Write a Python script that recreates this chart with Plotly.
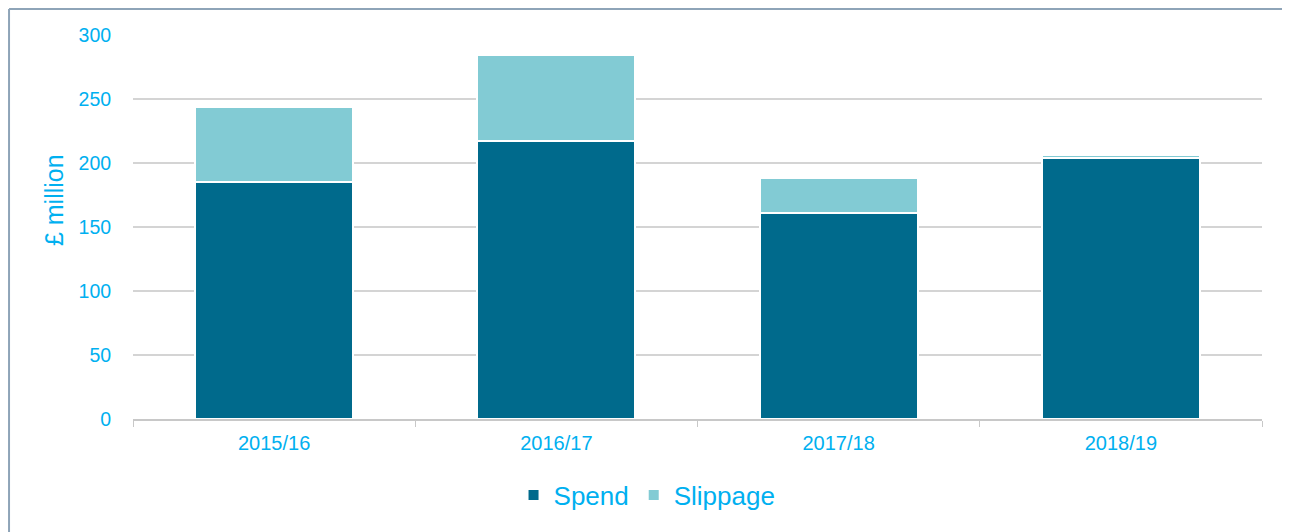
import plotly.graph_objects as go

years = ["2015/16", "2016/17", "2017/18", "2018/19"]
spend = [185, 217, 161, 204]
slippage = [59, 67, 27, 2]

TXT = "#00B0F0"
fig = go.Figure()
fig.add_trace(go.Bar(x=years, y=spend, name="Spend",
                     marker=dict(color="#006A8C", line=dict(color="white", width=2)), width=0.56))
fig.add_trace(go.Bar(x=years, y=slippage, name="Slippage",
                     marker=dict(color="#82CBD4", line=dict(color="white", width=2)), width=0.56))

fig.update_layout(
    barmode="stack",
    width=1290, height=532, autosize=False,
    margin=dict(l=125, r=36, t=27, b=121, autoexpand=False),
    plot_bgcolor="white", paper_bgcolor="white",
    font=dict(family="Liberation Sans, Arial, sans-serif", color=TXT),
    showlegend=True,
    legend=dict(orientation="h", x=0.4553, xanchor="center", y=-0.198, yanchor="middle",
                font=dict(size=26, color=TXT), traceorder="normal"),
    xaxis=dict(showgrid=False, showline=True, linecolor="#C8C8C8", linewidth=1.5,
               ticks="outside", tickson="boundaries", ticklen=6, tickcolor="#C8C8C8",
               ticklabelstandoff=5,
               tickfont=dict(size=20, color=TXT), automargin=False),
    yaxis=dict(range=[0, 300], dtick=50, showgrid=True, gridcolor="#D4D4D4", gridwidth=1.5,
               zeroline=False, showline=False, ticks="outside", ticklen=17, tickcolor="rgba(0,0,0,0)",
               tickfont=dict(size=19.5, color=TXT), automargin=False),
    bargap=0.44,
)
# y-axis title placed like the reference (above plot centre)
fig.add_annotation(text="£ million", xref="paper", yref="paper", x=-0.07, y=0.57,
                   textangle=-90, showarrow=False, xanchor="center", yanchor="middle",
                   font=dict(size=25, color=TXT))
# outer frame (top and left edges)
fig.add_shape(type="line", xref="paper", yref="paper", x0=-0.1098, x1=1.1, y0=1.0677, y1=1.0677,
              line=dict(color="#8EA4B8", width=2))
fig.add_shape(type="line", xref="paper", yref="paper", x0=-0.1098, x1=-0.1098, y0=-0.4, y1=1.0677,
              line=dict(color="#8EA4B8", width=2))

fig.write_html("out.html")
